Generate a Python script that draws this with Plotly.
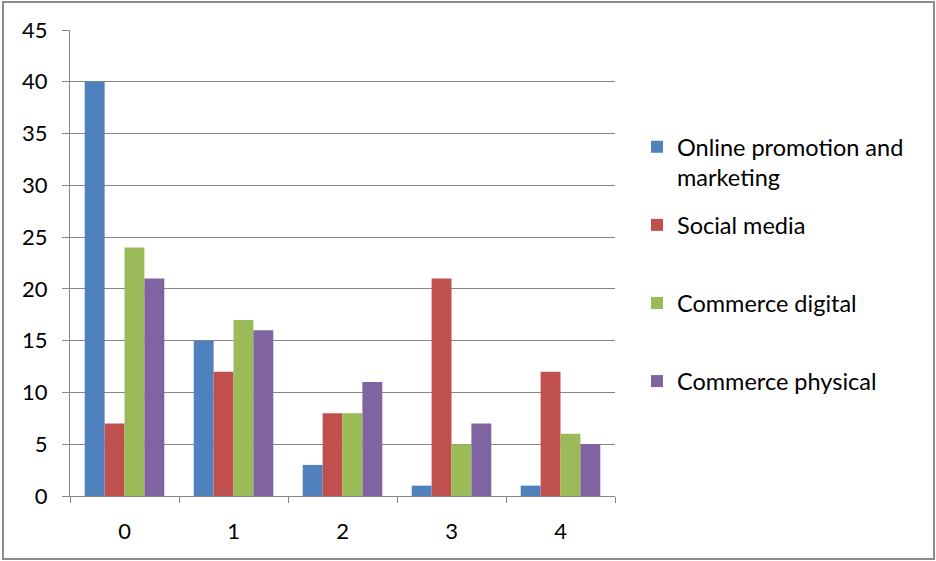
import plotly.graph_objects as go

categories = ["0", "1", "2", "3", "4"]
series_names = ["Online promotion and<br>marketing", "Social media<br>\u00a0", "Commerce digital<br>\u00a0", "Commerce physical<br>\u00a0"]
online_promotion = [40, 15, 3, 1, 1]
social_media = [7, 12, 8, 21, 12]
commerce_digital = [24, 17, 8, 5, 6]
commerce_physical = [21, 16, 11, 7, 5]
colors = ["#4F81BD", "#C0504D", "#9BBB59", "#8064A2"]
y_ticks = [0, 5, 10, 15, 20, 25, 30, 35, 40, 45]

W, H = 936, 561
L, R, T, B = 70, 321, 30, 65
pw, ph = W - L - R, H - T - B

fig = go.Figure()
for i, (name, vals, col) in enumerate(zip(series_names, [online_promotion, social_media, commerce_digital, commerce_physical], colors)):
    fig.add_trace(go.Bar(x=categories, y=vals, name=name, legendgroup=f"g{i}",
                         marker=dict(color=col, line=dict(width=0))))

fig.update_layout(
    width=W, height=H,
    margin=dict(l=L, r=R, t=T, b=B, pad=0),
    paper_bgcolor="white", plot_bgcolor="white",
    font=dict(family="Lato, Carlito, sans-serif", size=21, color="#000000"),
    barmode="group", bargap=0.27, bargroupgap=0,
    showlegend=True,
    legend=dict(x=(637 - L) / pw, y=1 - (125 - T) / ph, xanchor="left", yanchor="top",
                valign="top", tracegroupgap=14, font=dict(size=23.5), bgcolor="rgba(0,0,0,0)"),
    xaxis=dict(type="category", showline=True, linecolor="#868686", linewidth=1,
               ticks="outside", tickson="boundaries", ticklen=6, tickcolor="#868686",
               showgrid=False, tickfont=dict(size=22), ticklabelstandoff=16),
    yaxis=dict(range=[0, 45], tickvals=y_ticks, showline=True, linecolor="#868686", linewidth=1,
               ticks="outside", ticklen=7, tickcolor="#868686", showgrid=True, gridcolor="#868686",
               gridwidth=1, zeroline=False, tickfont=dict(size=22), ticklabelstandoff=10),
)

fig.add_shape(type="rect", xref="paper", yref="paper",
              x0=(3 - L) / pw, x1=(934 - L) / pw, y0=-(559 - T - ph) / ph, y1=1 + (T - 2) / ph,
              line=dict(color="#8C8C8C", width=2), fillcolor="rgba(0,0,0,0)", layer="below")

fig.write_html("out.html")
